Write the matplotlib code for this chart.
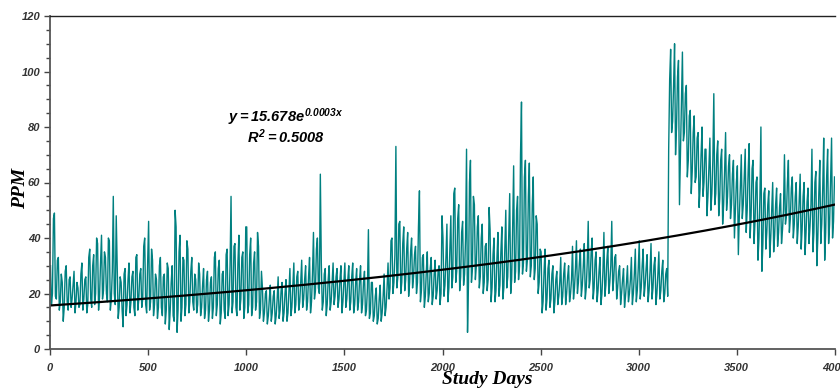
import matplotlib
matplotlib.use('Agg')
import matplotlib.pyplot as plt
from matplotlib.ticker import MultipleLocator
import numpy as np

# daily PPM readings, summarised as the high / low of each 10-day window
WIN_DAYS = 10
ppm_high = [
    30, 47, 49, 32, 33, 27, 24, 28, 30, 25, 26, 23, 28, 24, 22, 27, 31, 25, 26, 33,
    36, 30, 34, 40, 38, 31, 41, 35, 33, 40, 39, 28, 55, 48, 30, 26, 24, 27, 29, 25,
    31, 26, 28, 33, 34, 27, 29, 37, 40, 31, 46, 36, 32, 27, 25, 30, 33, 26, 27, 31,
    29, 24, 30, 50, 44, 35, 41, 33, 32, 39, 36, 28, 33, 27, 25, 31, 27, 23, 29, 25,
    28, 24, 26, 33, 35, 29, 32, 27, 28, 34, 36, 30, 55, 37, 38, 31, 41, 33, 35, 44,
    44, 34, 40, 31, 35, 42, 37, 28, 22, 20, 21, 18, 23, 19, 21, 18, 26, 21, 24, 20,
    25, 21, 29, 23, 31, 26, 28, 24, 32, 25, 30, 26, 33, 27, 42, 36, 40, 63, 31, 27,
    29, 25, 30, 24, 31, 26, 29, 25, 30, 24, 31, 25, 30, 26, 31, 24, 29, 25, 30, 24,
    28, 22, 43, 24, 24, 19, 22, 18, 23, 19, 27, 22, 31, 39, 40, 34, 73, 45, 46, 38,
    44, 36, 42, 35, 40, 34, 37, 44, 57, 33, 34, 28, 35, 29, 33, 27, 32, 28, 30, 48,
    40, 33, 45, 36, 48, 56, 58, 47, 52, 42, 46, 40, 72, 60, 68, 55, 52, 44, 48, 40,
    45, 37, 38, 51, 43, 34, 40, 33, 42, 35, 44, 36, 50, 41, 56, 44, 66, 50, 55, 70,
    89, 62, 68, 55, 67, 52, 62, 48, 45, 36, 35, 28, 36, 29, 32, 27, 30, 25, 28, 24,
    33, 27, 31, 26, 30, 25, 37, 29, 39, 31, 36, 30, 38, 31, 46, 35, 40, 32, 35, 28,
    33, 28, 42, 32, 37, 30, 46, 33, 34, 28, 30, 25, 29, 24, 30, 25, 33, 27, 36, 29,
    39, 30, 36, 29, 34, 28, 38, 30, 33, 27, 35, 28, 32, 27, 29, 97, 108, 95, 110, 98,
    104, 90, 107, 92, 95, 84, 86, 78, 84, 76, 78, 70, 80, 72, 72, 66, 76, 68, 92, 70,
    75, 68, 72, 64, 78, 66, 70, 63, 68, 60, 66, 58, 70, 62, 72, 64, 74, 65, 68, 60,
    62, 55, 80, 56, 58, 52, 57, 50, 60, 52, 58, 51, 56, 50, 70, 60, 68, 58, 62, 55,
    60, 54, 63, 55, 60, 53, 58, 52, 72, 60, 64, 56, 68, 58, 76, 62, 72, 60, 76, 62,
]
ppm_low = [
    16, 20, 19, 18, 14, 17, 10, 15, 17, 14, 15, 18, 13, 17, 15, 16, 14, 18, 13, 16,
    18, 15, 16, 20, 14, 19, 18, 21, 20, 17, 14, 18, 20, 16, 11, 15, 14, 8, 12, 16,
    13, 17, 15, 12, 14, 18, 15, 18, 16, 13, 14, 17, 12, 16, 11, 15, 15, 12, 9, 14,
    7, 14, 12, 10, 6, 14, 10, 15, 12, 16, 13, 17, 17, 14, 13, 16, 12, 15, 11, 14,
    10, 14, 11, 15, 12, 16, 9, 13, 14, 11, 12, 16, 13, 17, 15, 12, 14, 18, 11, 15,
    13, 16, 12, 15, 14, 17, 11, 14, 10, 13, 9, 12, 10, 13, 9, 12, 11, 14, 10, 13,
    10, 13, 12, 15, 13, 16, 14, 17, 15, 18, 14, 17, 13, 17, 18, 21, 22, 20, 14, 17,
    12, 16, 14, 17, 16, 19, 15, 18, 13, 17, 15, 18, 14, 17, 13, 16, 14, 17, 13, 16,
    12, 14, 11, 13, 10, 12, 9, 11, 10, 13, 12, 15, 18, 22, 20, 24, 22, 26, 20, 24,
    21, 25, 19, 24, 22, 26, 20, 24, 17, 21, 15, 19, 17, 20, 16, 19, 18, 21, 16, 20,
    19, 23, 17, 22, 22, 26, 24, 28, 21, 26, 23, 27, 6, 24, 24, 29, 25, 30, 22, 26,
    20, 24, 21, 25, 17, 22, 17, 21, 19, 23, 18, 22, 22, 26, 20, 25, 24, 28, 25, 30,
    27, 31, 28, 32, 26, 30, 25, 29, 20, 24, 13, 17, 14, 18, 15, 18, 13, 17, 16, 19,
    16, 19, 16, 20, 17, 20, 18, 22, 20, 24, 19, 23, 18, 22, 22, 25, 18, 22, 17, 21,
    16, 20, 19, 23, 20, 24, 21, 25, 18, 22, 16, 20, 15, 19, 17, 20, 16, 20, 17, 21,
    18, 22, 19, 23, 17, 21, 18, 22, 16, 20, 18, 21, 17, 20, 19, 72, 78, 82, 70, 80,
    52, 70, 75, 78, 62, 68, 56, 64, 60, 62, 51, 58, 55, 60, 48, 55, 50, 56, 52, 56,
    48, 54, 45, 52, 50, 55, 47, 52, 40, 50, 34, 48, 47, 52, 42, 50, 40, 48, 38, 46,
    32, 40, 28, 38, 36, 42, 33, 40, 35, 41, 37, 42, 38, 43, 45, 48, 42, 47, 40, 45,
    38, 44, 36, 43, 34, 42, 38, 44, 35, 42, 30, 40, 38, 45, 32, 42, 38, 45, 40, 46,
]

# exponential trend fitted to the readings
fit_a = 15.678
fit_b = 0.0003
fit_r2 = 0.5008

# interleave highs and lows into one trace, two samples per window
days = []
ppm = []
for i, (hi, lo) in enumerate(zip(ppm_high, ppm_low)):
    d0 = i * WIN_DAYS
    first, second = (hi, lo) if i % 2 == 0 else (lo, hi)
    days += [d0 + 2.5, d0 + 7.5]
    ppm += [first, second]

plt.rcParams['mathtext.fontset'] = 'custom'
plt.rcParams['mathtext.rm'] = 'Liberation Sans:italic:bold'
plt.rcParams['mathtext.it'] = 'Liberation Sans:italic:bold'

fig = plt.figure(figsize=(8.4, 3.89), dpi=100)
ax = fig.add_axes([50 / 840, 1 - 349 / 389, 785 / 840, 333 / 389])

ax.plot(days, ppm, color='#008080', linewidth=1.0)
xt = np.linspace(0, 4000, 200)
ax.plot(xt, fit_a * np.exp(fit_b * xt), color='black', linewidth=1.6)

ax.xaxis.set_major_locator(MultipleLocator(500))
ax.yaxis.set_major_locator(MultipleLocator(20))
ax.yaxis.set_minor_locator(MultipleLocator(5))
ax.set_xlim(0, 4000)
ax.set_ylim(0, 120)

tick_font = dict(family=['Liberation Sans Narrow', 'Liberation Sans', 'DejaVu Sans'],
                 weight='bold', style='italic', size=8)
xticks = np.arange(0, 4001, 500)
yticks = np.arange(0, 121, 20)
ax.set_xticks(xticks)
ax.set_xticklabels([str(t) for t in xticks], **tick_font, color='#333333')
ax.set_yticks(yticks)
ax.set_yticklabels([str(t) for t in yticks], **tick_font, color='#333333')
ax.tick_params(axis='both', which='both', direction='out', color='#444444', width=1)
ax.tick_params(axis='both', which='major', length=4, pad=3)
ax.tick_params(axis='x', which='major', pad=6)
ax.tick_params(axis='y', which='minor', length=3)

for side in ['left', 'bottom']:
    ax.spines[side].set_color('#555555')
    ax.spines[side].set_linewidth(1.3)
ax.spines['top'].set_color('#222222')
ax.spines['top'].set_linewidth(1.0)
ax.spines['right'].set_visible(False)

label_font = dict(family=['Liberation Serif', 'DejaVu Serif'], weight='bold',
                  style='italic', size=14)
ax.set_xlabel('Study Days', **label_font)
ax.xaxis.set_label_coords(0.557, -0.066)
ax.set_ylabel('PPM', **label_font)
ax.yaxis.set_label_coords(-0.027, 0.483)

ax.text(1200, 83.6, r'$y = %.3fe^{%.4fx}$' % (fit_a, fit_b), ha='center', va='center',
        fontsize=10.5)
ax.text(1205, 76.4, r'$R^{2} = %.4f$' % fit_r2, ha='center', va='center', fontsize=10.5)

fig.savefig('out.png', dpi=100)
